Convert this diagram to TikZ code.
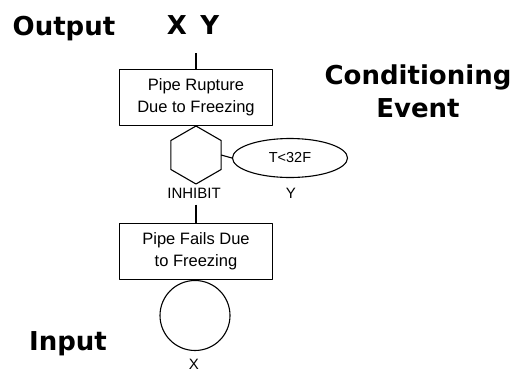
\documentclass[tikz,border=0pt]{standalone}
\usepackage{fontspec}
\setmainfont{Liberation Sans}
\newfontfamily\headfont{DejaVu Sans}
\usetikzlibrary{shapes.geometric}
\begin{document}
\begin{tikzpicture}[x=1pt, y=-1pt, line width=1.1pt, line join=round,
  head/.style={font=\headfont\bfseries\fontsize{26}{33}\selectfont, inner sep=0pt},
  event/.style={draw, minimum width=153pt, minimum height=56pt, align=center,
    inner sep=0pt, outer sep=0pt, font=\fontsize{16.5}{22}\selectfont},
  small/.style={font=\fontsize{15}{18}\selectfont, inner sep=0pt}]
  \useasboundingbox (0,0) rectangle (515,373);
  % headings
  \node[head, anchor=base] (outlbl) at (64,35) {Output};
  \node[head, anchor=base] (xy) at (193,34) {X\,\ Y};
  \node[head, anchor=base] (inlbl) at (68,350) {Input};
  \node[head, anchor=base, align=center] (condlbl) at (418,117) {Conditioning\\Event};
  % events
  \coordinate (top) at (196,53);
  \node[event] (rupture) at (196,97.5) {Pipe Rupture\\Due to Freezing};
  \node[draw, regular polygon, regular polygon sides=6, regular polygon rotate=30,
    minimum size=58pt, inner sep=0pt, outer sep=0pt] (gate) at (196,155) {};
  \node[small, anchor=base] (inhlbl) at (194,198) {INHIBIT};
  \node[draw, ellipse, minimum width=115pt, minimum height=39pt, inner sep=0pt,
    font=\fontsize{14.5}{17}\selectfont] (cond) at (290,158) {T<32F};
  \node[small, anchor=base] (ylbl) at (291,198) {Y};
  \node[event] (fails) at (196,251.5) {Pipe Fails Due\\to Freezing};
  \node[draw, circle, minimum size=70pt, inner sep=0pt, outer sep=0pt] (basic) at (195,315.5) {};
  \node[small, anchor=base] (xlbl) at (194,369.5) {X};
  % connectors
  \draw (top) -- (rupture.north);
  \draw (gate.east) -- (cond.west);
  \draw (inhlbl.south -| fails.north) ++(0,6) -- (fails.north);
\end{tikzpicture}
\end{document}
